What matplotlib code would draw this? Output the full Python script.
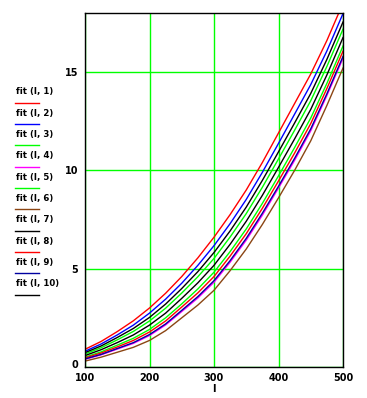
import matplotlib
matplotlib.use("Agg")
import matplotlib.pyplot as plt
import matplotlib.transforms as mtransforms
from matplotlib.lines import Line2D

I_vals = [100, 125, 150, 175, 200, 225, 250, 275, 300, 325, 350, 375, 400, 425, 450, 475, 500]

fit_1 = [0.90, 1.30, 1.80, 2.35, 3.00, 3.75, 4.60, 5.55, 6.60, 7.75, 9.00, 10.40, 11.90, 13.40, 14.90, 16.60, 18.50]
fit_2 = [0.80, 1.17, 1.63, 2.13, 2.74, 3.45, 4.26, 5.17, 6.17, 7.29, 8.52, 9.90, 11.37, 12.86, 14.36, 16.07, 17.97]
fit_3 = [0.66, 0.98, 1.38, 1.81, 2.34, 2.99, 3.76, 4.59, 5.52, 6.61, 7.80, 9.14, 10.58, 12.04, 13.54, 15.28, 17.18]
fit_4 = [0.39, 0.62, 0.91, 1.20, 1.60, 2.14, 2.82, 3.51, 4.31, 5.33, 6.45, 7.72, 9.10, 10.51, 12.01, 13.80, 15.70]
fit_5 = [0.50, 0.77, 1.11, 1.46, 1.91, 2.50, 3.21, 3.97, 4.82, 5.87, 7.02, 8.32, 9.72, 11.16, 12.66, 14.42, 16.32]
fit_6 = [0.30, 0.50, 0.75, 1.00, 1.35, 1.85, 2.50, 3.15, 3.90, 4.90, 6.00, 7.25, 8.60, 10.00, 11.50, 13.30, 15.20]
fit_7 = [0.73, 1.07, 1.50, 1.96, 2.52, 3.20, 3.99, 4.85, 5.82, 6.92, 8.13, 9.49, 10.94, 12.41, 13.91, 15.64, 17.54]
fit_8 = [0.46, 0.71, 1.02, 1.35, 1.78, 2.34, 3.05, 3.77, 4.60, 5.64, 6.78, 8.07, 9.46, 10.88, 12.38, 14.16, 16.06]
fit_9 = [0.41, 0.64, 0.94, 1.24, 1.65, 2.19, 2.88, 3.58, 4.39, 5.41, 6.54, 7.82, 9.19, 10.61, 12.11, 13.89, 15.79]
fit_10 = [0.58, 0.88, 1.24, 1.63, 2.13, 2.74, 3.49, 4.28, 5.17, 6.24, 7.41, 8.73, 10.15, 11.60, 13.10, 14.85, 16.75]

series = [fit_1, fit_2, fit_3, fit_4, fit_5, fit_6, fit_7, fit_8, fit_9, fit_10]
labels = ["fit (I, %d)" % k for k in range(1, 11)]
colors = ["#ff0000", "#0000ff", "#00ff00", "#ff00ff", "#00ff00",
          "#8b4513", "#000000", "#ff0000", "#0000a0", "#000000"]

x_ticks = [100, 200, 300, 400, 500]
y_ticks = [0, 5, 10, 15]

W, H = 367, 398
fig = plt.figure(figsize=(W / 100, H / 100), dpi=100)
fig.patch.set_facecolor("white")
ax = fig.add_axes([85 / W, 1 - 367 / H, (343 - 85) / W, (367 - 13) / H])

for ys, c in zip(series, colors):
    ax.plot(I_vals, ys, color=c, lw=1.0)

ax.set_xlim(100, 500)
ax.set_ylim(0, 18)
ax.set_xticks(x_ticks)
ax.set_yticks(y_ticks)
ax.grid(True, color="#00ff00", lw=1.0)
ax.tick_params(axis="x", length=0, labelsize=7, pad=4)
ax.tick_params(axis="y", length=0, labelsize=7, pad=5)
for lab in ax.get_xticklabels() + ax.get_yticklabels():
    lab.set_fontweight("bold")
# nudge the "0" label up so it clears "100"
zero_lab = ax.get_yticklabels()[0]
zero_lab.set_transform(zero_lab.get_transform() +
                       mtransforms.ScaledTranslation(0, 2.5 / 72, fig.dpi_scale_trans))
for s in ax.spines.values():
    s.set_color("black")
    s.set_linewidth(1.0)
fig.text(214 / W, 1 - 389 / H, "I", fontsize=7, fontweight="bold",
         ha="center", va="center")

# legend at left
for i, (lab, c) in enumerate(zip(labels, colors)):
    ylab = 91.7 + i * 21.35
    yline = ylab + 10.8
    fig.text(15.5 / W, 1 - ylab / H, lab, fontsize=6.2, fontweight="bold",
             ha="left", va="center")
    fig.add_artist(Line2D([15 / W, 39 / W], [1 - yline / H, 1 - yline / H],
                          color=c, lw=1.0, transform=fig.transFigure))

fig.savefig("out.png", dpi=100)
